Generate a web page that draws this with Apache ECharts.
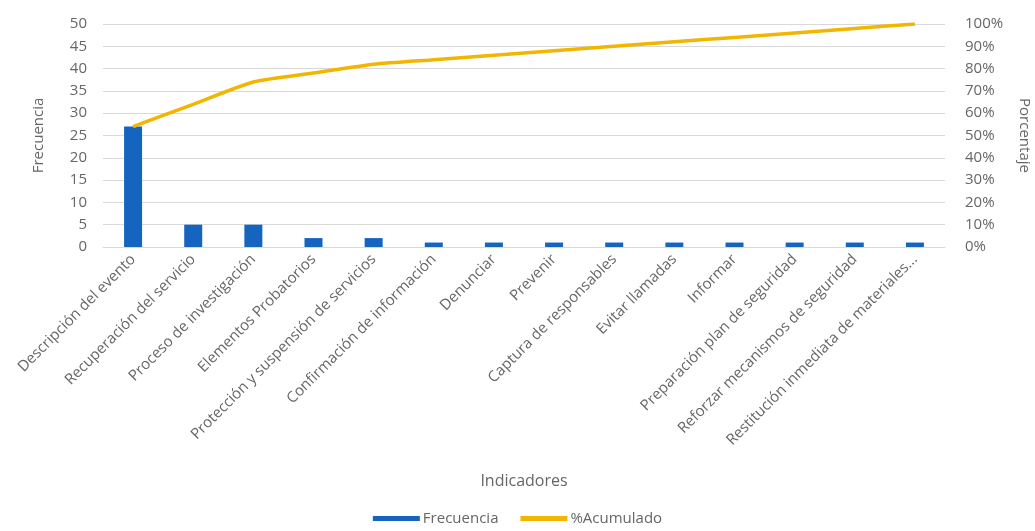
<!DOCTYPE html>
<html>
<head>
<meta charset="utf-8">
<script src="https://cdn.jsdelivr.net/npm/echarts@6/dist/echarts.min.js"></script>
<style>
html,body{margin:0;padding:0;background:#fff;}
#c{width:1035px;height:531px;}
</style>
</head>
<body>
<div id="c"></div>
<script>
const categories = [
  "Descripción del evento",
  "Recuperación del servicio",
  "Proceso de investigación",
  "Elementos Probatorios",
  "Protección y suspensión de servicios",
  "Confirmación de información",
  "Denunciar",
  "Prevenir",
  "Captura de responsables",
  "Evitar llamadas",
  "Informar",
  "Preparación plan de seguridad",
  "Reforzar mecanismos de seguridad",
  "Restitución inmediata de materiales..."
];
const frecuencia = [27, 5, 5, 2, 2, 1, 1, 1, 1, 1, 1, 1, 1, 1];
const acumulado = [54, 64, 74, 78, 82, 84, 86, 88, 90, 92, 94, 96, 98, 100];
const leftTicks = { min: 0, max: 50, interval: 5 };
const rightTicks = { min: 0, max: 100, interval: 10 };

const txt = '#666666';
const font = 'Open Sans';
const chart = echarts.init(document.getElementById('c'));
chart.setOption({
  animation: false,
  textStyle: { fontFamily: font },
  grid: { left: 103, right: 90, top: 24, bottom: 284, containLabel: false, outerBoundsMode: 'none' },
  legend: {
    bottom: 0,
    left: 'center',
    itemGap: 22,
    itemWidth: 47,
    itemHeight: 5,
    icon: 'rect',
    textStyle: { color: txt, fontSize: 15, fontFamily: font, padding: [0, 0, 0, -2] },
    data: ['Frecuencia', '%Acumulado']
  },
  xAxis: {
    type: 'category',
    data: categories,
    name: 'Indicadores',
    nameLocation: 'middle',
    nameGap: 226,
    nameTextStyle: { color: txt, fontSize: 16, fontFamily: font },
    axisLine: { lineStyle: { color: '#d9d9d9' } },
    axisTick: { show: false },
    axisLabel: { rotate: 45, color: txt, fontSize: 15, fontFamily: font, interval: 0, margin: 10 }
  },
  yAxis: [
    {
      type: 'value',
      min: leftTicks.min, max: leftTicks.max, interval: leftTicks.interval,
      name: 'Frecuencia',
      nameLocation: 'middle',
      nameGap: 57,
      nameTextStyle: { color: txt, fontSize: 15, fontFamily: font },
      axisLine: { show: false },
      axisTick: { show: false },
      axisLabel: { color: txt, fontSize: 15, fontFamily: font, margin: 16 },
      splitLine: { lineStyle: { color: '#d9d9d9' } }
    },
    {
      type: 'value',
      min: rightTicks.min, max: rightTicks.max, interval: rightTicks.interval,
      name: 'Porcentaje',
      nameLocation: 'middle',
      nameGap: 72,
      nameRotate: -90,
      nameTextStyle: { color: txt, fontSize: 15, fontFamily: font },
      axisLine: { show: false },
      axisTick: { show: false },
      axisLabel: { color: txt, fontSize: 15, fontFamily: font, margin: 20, formatter: '{value}%' },
      splitLine: { show: false }
    }
  ],
  series: [
    {
      name: 'Frecuencia',
      type: 'bar',
      data: frecuencia,
      barWidth: 18,
      itemStyle: { color: '#1565C0' }
    },
    {
      name: '%Acumulado',
      type: 'line',
      yAxisIndex: 1,
      data: acumulado,
      symbol: 'none',
      smooth: 0.2,
      lineStyle: { color: '#F2B600', width: 3.5 },
      itemStyle: { color: '#F2B600' }
    }
  ]
});
</script>
</body>
</html>
